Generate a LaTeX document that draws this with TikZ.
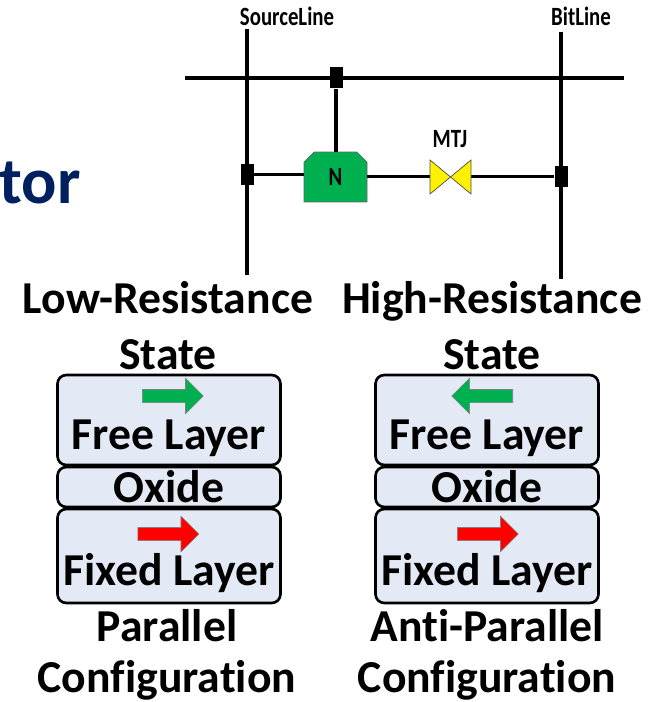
\documentclass[tikz,border=0pt]{standalone}
\usepackage{fontspec}
\setmainfont[Ligatures=CommonOff]{Carlito}
\usetikzlibrary{calc,shapes.misc,shapes.arrows}
\definecolor{layerfill}{HTML}{E4EAF5}
\definecolor{nmosgreen}{HTML}{00B050}
\definecolor{titleblue}{HTML}{002060}
\newcommand{\narrowtext}[1]{\scalebox{0.79}[1]{#1}}
\tikzset{
	wire/.style={line width=1.8pt},
	pad/.style={fill=black,minimum width=0.26cm,minimum height=0.42cm,inner sep=0pt},
	layerbox/.style={draw,line width=1.5pt,rounded corners=5pt,fill=layerfill,minimum width=4.46cm,inner sep=0pt},
	biglabel/.style={font=\fontsize{26}{26}\bfseries\selectfont,inner sep=0pt,anchor=base},
	smalllabel/.style={font=\fontsize{15}{15}\bfseries\selectfont,inner sep=0pt,anchor=base},
	spin/.style={single arrow,draw=gray,line width=0.3pt,minimum height=1.22cm,single arrow head extend=0.225cm,inner sep=0pt,single arrow tip angle=90},
}
\begin{document}
\begin{tikzpicture}[x=0.02cm,y=-0.02cm]
\useasboundingbox (0,0) rectangle (648,702);
\node [font=\fontsize{37.5}{37.5}\bfseries\selectfont,text=titleblue,inner sep=0pt,anchor=base east] (title) at (81,204) {tor};
% circuit
\coordinate (slt) at (247,29);
\coordinate (slb) at (247,275);
\coordinate (blt) at (561,32);
\coordinate (blb) at (561,279);
\coordinate (wll) at (185,78);
\coordinate (wlr) at (624,78);
\coordinate (mtjl) at (430,176.5);
\coordinate (mtjr) at (471,176.5);
\node [pad] (padw) at (336,78) {};
\node [pad] (pads) at (247,174.5) {};
\node [pad] (padb) at (561,176.5) {};
\node [chamfered rectangle,chamfered rectangle corners={north east,north west},chamfered rectangle xsep=0.1cm,chamfered rectangle ysep=0.1cm,draw=black!60,fill=nmosgreen,minimum width=1.26cm,minimum height=1cm,inner sep=0pt,font=\fontsize{15}{15}\bfseries\selectfont] (nmos) at (335.5,177) {\narrowtext{N}};
\draw [wire] (slt) -- (slb);
\draw [wire] (blt) -- (blb);
\draw [wire] (wll) -- (wlr);
\draw [wire] (padw) -- (padw |- nmos.north);
\draw [wire] (pads) -- (pads -| nmos.west);
\draw [wire] (nmos.east |- mtjl) -- (mtjl);
\draw [wire] (mtjr) -- (padb);
\draw [fill=yellow,draw=black!70] (mtjl |- 0,160) -- (mtjr |- 0,194) -- (mtjr |- 0,160) -- (mtjl |- 0,194) -- cycle;
\node [smalllabel] (sl) at (287,25.5) {\narrowtext{SourceLine}};
\node [smalllabel] (bl) at (581,25.5) {\narrowtext{BitLine}};
\node [smalllabel] (mtjlabel) at (450,148) {\narrowtext{MTJ}};
% left stack
\node [biglabel] (lowa) at (168,313.5) {Low-Resistance};
\node [biglabel] (lowb) at (168,369.5) {State};
\node [layerbox,minimum height=1.8cm] (freel) at (169,420) {};
\node [layerbox,minimum height=0.8cm] (oxidel) at (169,487) {};
\node [layerbox,minimum height=1.88cm] (fixedl) at (169,556) {};
\node [spin,fill=nmosgreen] (freearrl) at (169.5,396) {\rule{0pt}{0.25cm}};
\node [spin,fill=red] (fixedarrl) at (165,534) {\rule{0pt}{0.25cm}};
\node [biglabel] (freetl) at (169,449) {Free Layer};
\node [biglabel] (oxidetl) at (169,502) {Oxide};
\node [biglabel] (fixedtl) at (169,585.5) {Fixed Layer};
\node [biglabel] (para) at (167,641) {Parallel};
\node [biglabel] (parb) at (167,692.5) {Configuration};
% right stack
\node [biglabel] (higha) at (492,313.5) {High-Resistance};
\node [biglabel] (highb) at (492,369.5) {State};
\node [layerbox,minimum height=1.8cm] (freer) at (487,420) {};
\node [layerbox,minimum height=0.8cm] (oxider) at (487,487) {};
\node [layerbox,minimum height=1.88cm] (fixedr) at (487,556) {};
\node [spin,fill=nmosgreen,shape border rotate=180] (freearrr) at (485.5,396) {\rule{0pt}{0.25cm}};
\node [spin,fill=red] (fixedarrr) at (484.5,534) {\rule{0pt}{0.25cm}};
\node [biglabel] (freetr) at (487,449) {Free Layer};
\node [biglabel] (oxidetr) at (487,502) {Oxide};
\node [biglabel] (fixedtr) at (487,585.5) {Fixed Layer};
\node [biglabel] (apara) at (487,641) {Anti-Parallel};
\node [biglabel] (aparb) at (487,692.5) {Configuration};
\end{tikzpicture}
\end{document}
